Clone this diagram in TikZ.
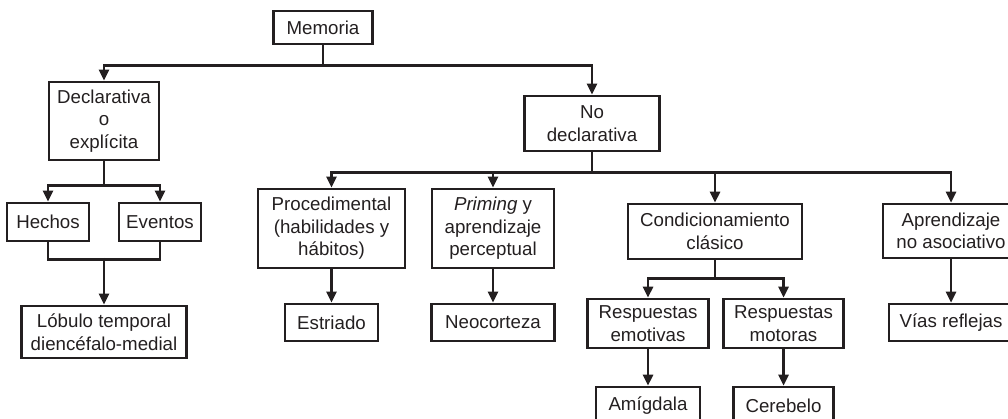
\documentclass[tikz,border=0pt]{standalone}
\usepackage{fontspec}
\setmainfont{Liberation Sans}
\usetikzlibrary{arrows.meta}
\definecolor{ink}{HTML}{231F20}
\tikzset{
  box/.style={draw=ink, line width=2.6pt, inner sep=0pt, align=center,
    font=\fontsize{18.7}{22.5}\selectfont, text=ink},
  conn/.style={draw=ink, line width=2.5pt},
  arr/.style={conn, -{Triangle[width=10pt,length=11pt]}}
}
\begin{document}
\begin{tikzpicture}[x=1pt,y=-1pt]
\useasboundingbox (0,0) rectangle (1008,419);
\clip (0,0) rectangle (1008,419);
% nodes
\node[box, minimum width=99pt, minimum height=33pt] (mem) at (323,27.5) {Memoria};
\node[box, minimum width=110pt, minimum height=78pt] (decl) at (104,121) {Declarativa\\o\\explícita};
\node[box, minimum width=135pt, minimum height=55pt] (nodecl) at (592,123.5) {No\\declarativa};
\node[box, minimum width=82pt, minimum height=38pt] (hechos) at (48,222) {Hechos};
\node[box, minimum width=82pt, minimum height=38pt] (eventos) at (160,222) {Eventos};
\node[box, minimum width=165pt, minimum height=52pt] (lobulo) at (104,332) {Lóbulo temporal\\diencéfalo-medial};
\node[box, minimum width=147pt, minimum height=79pt] (proc) at (331.5,228.5) {Procedimental\\(habilidades y\\hábitos)};
\node[box, minimum width=122pt, minimum height=79pt] (prim) at (493,228.5) {\textit{Priming} y\\aprendizaje\\perceptual};
\node[box, minimum width=174pt, minimum height=55pt] (cond) at (715,231.5) {Condicionamiento\\clásico};
\node[box, minimum width=136pt, minimum height=54pt] (aprend) at (951,231) {Aprendizaje\\no asociativo};
\node[box, minimum width=93pt, minimum height=37pt] (estr) at (331.5,322.5) {Estriado};
\node[box, minimum width=123pt, minimum height=37pt] (neo) at (493,322.5) {Neocorteza};
\node[box, minimum width=121pt, minimum height=49pt] (emo) at (648,323.5) {Respuestas\\emotivas};
\node[box, minimum width=120pt, minimum height=49pt] (mot) at (783.5,323.5) {Respuestas\\motoras};
\node[box, minimum width=124pt, minimum height=37pt] (vias) at (951,322.5) {Vías reflejas};
\node[box, minimum width=104pt, minimum height=38pt] (amig) at (648,406) {Amígdala};
\node[box, minimum width=100pt, minimum height=38pt] (cereb) at (783.5,406) {Cerebelo};
% connectors
\draw[arr] (mem.south) -- ++(0,20) -| (decl.north);
\draw[arr] (mem.south) -- ++(0,20) -| (nodecl.north);
\draw[arr] (decl.south) -- ++(0,24) -| (hechos.north);
\draw[arr] (decl.south) -- ++(0,24) -| (eventos.north);
\draw[conn] (hechos.south) -- ++(0,17) -| (eventos.south);
\coordinate (hej) at (lobulo.north |- 0,258);
\draw[arr] (hej) -- (lobulo.north);
\draw[arr] (nodecl.south) -- ++(0,20) -| (proc.north);
\draw[arr] (nodecl.south) -- ++(0,20) -| (prim.north);
\draw[arr] (nodecl.south) -- ++(0,20) -| (cond.north);
\draw[arr] (nodecl.south) -- ++(0,20) -| (aprend.north);
\draw[arr] (proc.south) -- (estr.north);
\draw[arr] (prim.south) -- (neo.north);
\draw[arr] (cond.south) -- ++(0,18) -| (emo.north);
\draw[arr] (cond.south) -- ++(0,18) -| (mot.north);
\draw[arr] (emo.south) -- (amig.north);
\draw[arr] (mot.south) -- (cereb.north);
\draw[arr] (aprend.south) -- (vias.north);
\end{tikzpicture}
\end{document}
